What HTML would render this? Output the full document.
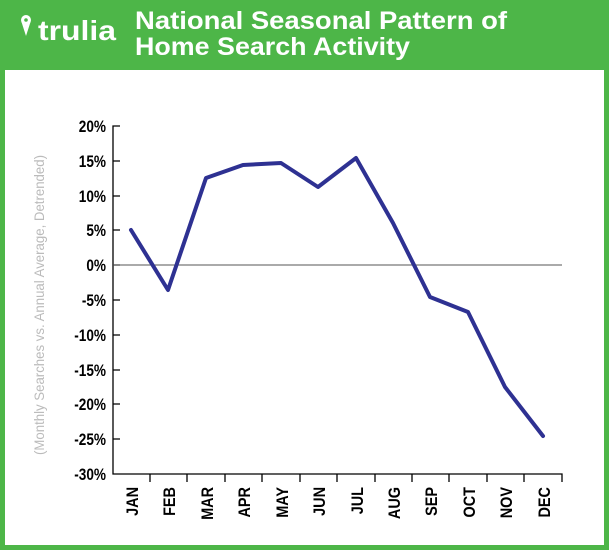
<!DOCTYPE html>
<html><head><style>
body{margin:0;width:609px;height:550px;overflow:hidden;background:#fff;font-family:"Liberation Sans",sans-serif}
</style></head><body>
<svg width="609" height="550" xmlns="http://www.w3.org/2000/svg">
<rect x="0" y="0" width="609" height="550" fill="#4db648"/>
<rect x="5" y="70" width="599" height="475" fill="#fff"/>
<circle cx="26" cy="20" r="5" fill="#fff"/>
<path d="M21.5 22 L26 36 L30.5 22 Z" fill="#fff"/>
<circle cx="26" cy="20" r="1.8" fill="#4db648"/>
<text x="38" y="40" font-weight="bold" font-size="28" fill="#fff" textLength="78" lengthAdjust="spacingAndGlyphs">trulia</text>
<text x="135" y="29" font-weight="bold" font-size="25" fill="#fff" textLength="372" lengthAdjust="spacingAndGlyphs">National Seasonal Pattern of</text>
<text x="135" y="55" font-weight="bold" font-size="25" fill="#fff" textLength="275" lengthAdjust="spacingAndGlyphs">Home Search Activity</text>
<g stroke="#000" stroke-width="1.3" fill="none">
<path d="M120 126 H113 V474 H562 V482"/>
<path d="M113 161H120M113 196H120M113 230H120M113 265H120M113 300H120M113 335H120M113 370H120M113 404H120M113 439H120"/>
<path d="M150 474v8M187 474v8M225 474v8M262 474v8M300 474v8M337 474v8M375 474v8M412 474v8M449 474v8M487 474v8M524 474v8"/>
</g>
<line x1="113" y1="265" x2="562" y2="265" stroke="#555" stroke-width="1"/>
<g font-weight="bold" font-size="17" text-anchor="end" fill="#000" transform="translate(106,0) scale(0.8,1) translate(-106,0)">
<text x="106" y="132">20%</text><text x="106" y="167">15%</text><text x="106" y="202">10%</text><text x="106" y="236">5%</text><text x="106" y="271">0%</text><text x="106" y="306">-5%</text><text x="106" y="341">-10%</text><text x="106" y="376">-15%</text><text x="106" y="410">-20%</text><text x="106" y="445">-25%</text><text x="106" y="480">-30%</text>
</g>
<g font-weight="bold" font-size="17" text-anchor="end" fill="#000">
<text transform="translate(138,487) rotate(-90) scale(0.85,1)">JAN</text>
<text transform="translate(175,487) rotate(-90) scale(0.85,1)">FEB</text>
<text transform="translate(213,487) rotate(-90) scale(0.85,1)">MAR</text>
<text transform="translate(250,487) rotate(-90) scale(0.85,1)">APR</text>
<text transform="translate(288,487) rotate(-90) scale(0.85,1)">MAY</text>
<text transform="translate(325,487) rotate(-90) scale(0.85,1)">JUN</text>
<text transform="translate(363,487) rotate(-90) scale(0.85,1)">JUL</text>
<text transform="translate(400,487) rotate(-90) scale(0.85,1)">AUG</text>
<text transform="translate(437,487) rotate(-90) scale(0.85,1)">SEP</text>
<text transform="translate(475,487) rotate(-90) scale(0.85,1)">OCT</text>
<text transform="translate(512,487) rotate(-90) scale(0.85,1)">NOV</text>
<text transform="translate(550,487) rotate(-90) scale(0.85,1)">DEC</text>
</g>
<text transform="translate(44,305) rotate(-90)" text-anchor="middle" font-size="14" fill="#bbb" textLength="300" lengthAdjust="spacingAndGlyphs">(Monthly Searches vs. Annual Average, Detrended)</text>
<polyline fill="none" stroke="#2e3192" stroke-width="4" stroke-linejoin="round" stroke-linecap="round"
points="131,230 168,290 206,178 243,165 281,163 318,187 356,158 393,223 430,297 468,312 505,387 543,436"/>
</svg>
</body></html>
